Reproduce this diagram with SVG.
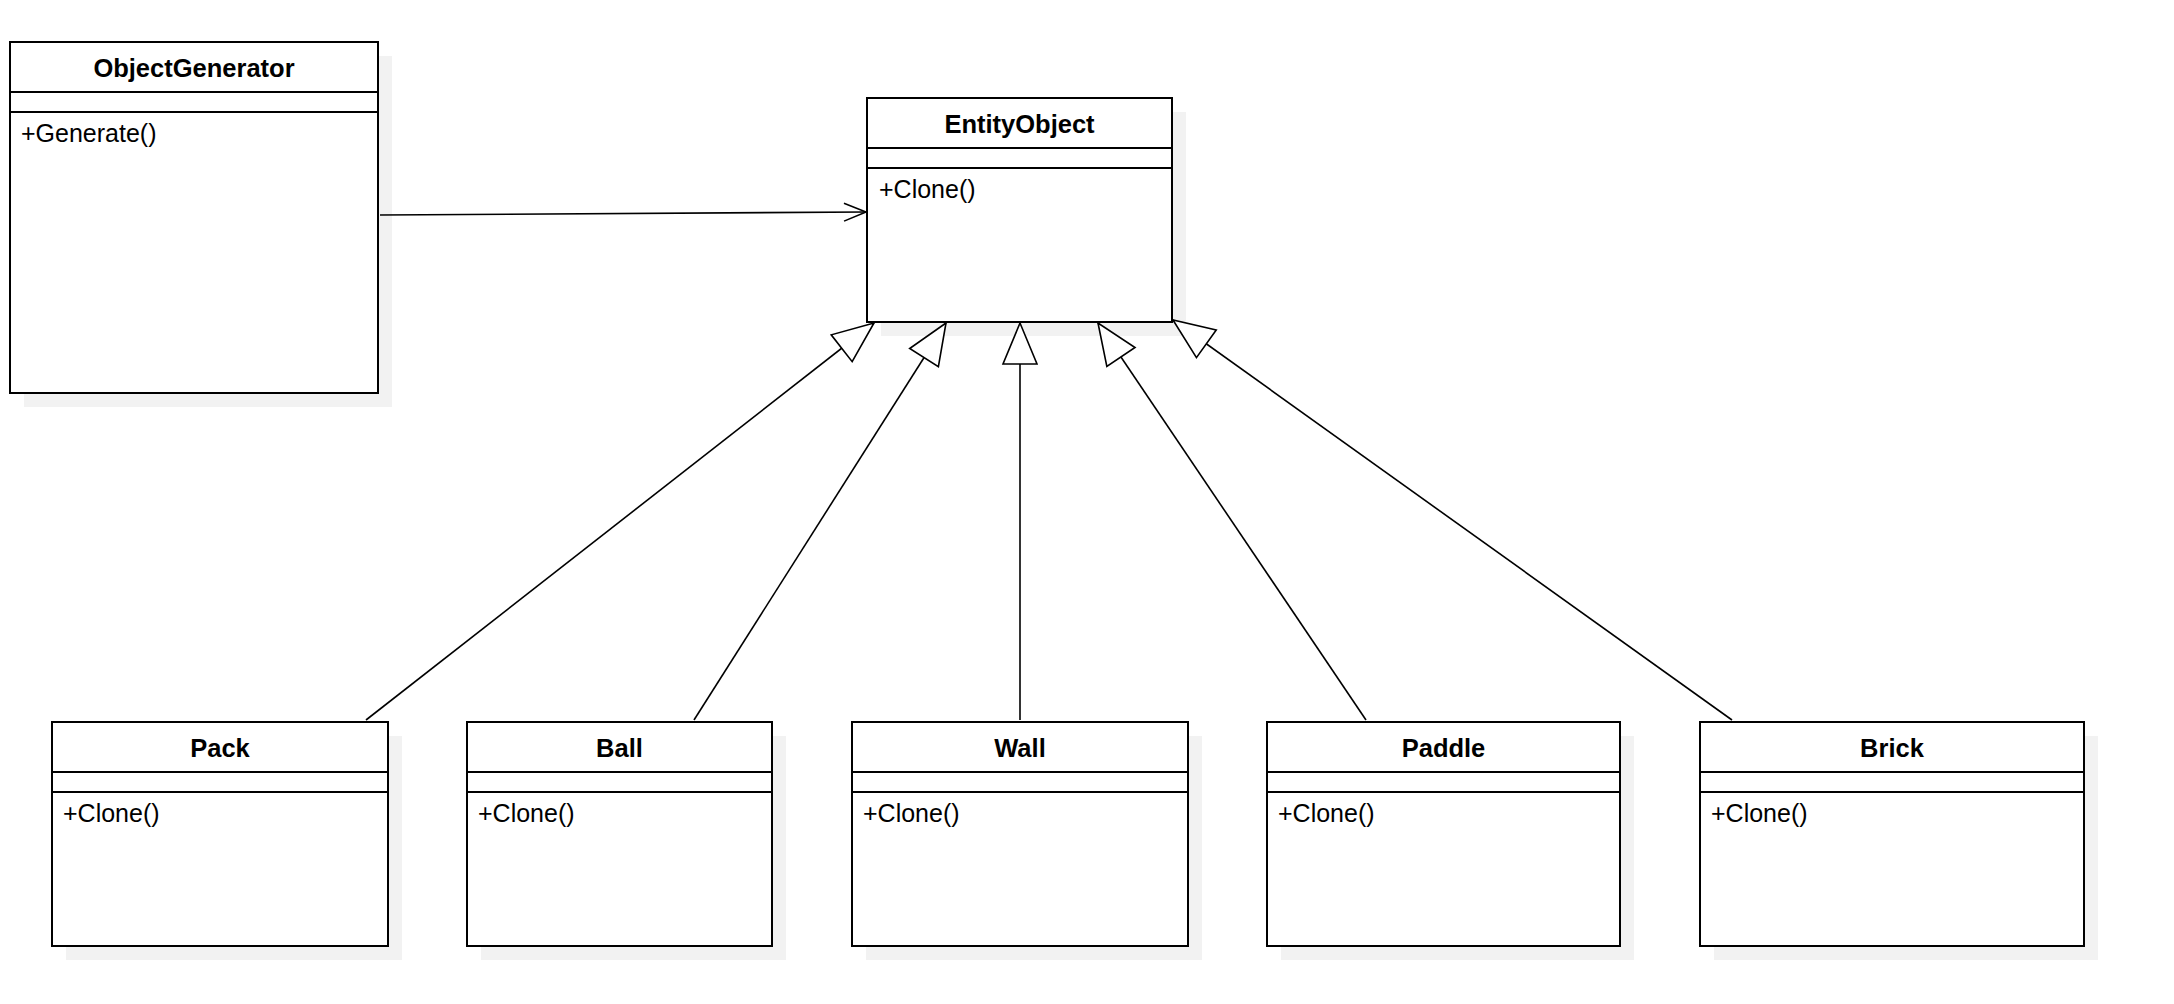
<svg xmlns="http://www.w3.org/2000/svg" width="2174" height="1004" viewBox="0 0 2174 1004">
<style>
.shadow{fill:#f2f2f2;stroke:none}
.box{fill:#ffffff;stroke:#000000;stroke-width:2}
.sep{stroke:#000000;stroke-width:2}
.title{font-family:"Liberation Sans",Arial,sans-serif;font-size:25.5px;font-weight:bold;text-anchor:middle;fill:#000}
.member{font-family:"Liberation Sans",Arial,sans-serif;font-size:25px;fill:#000}
.conn{stroke:#000;stroke-width:1.6;fill:none}
</style>
<defs>
<marker id="gen" markerUnits="userSpaceOnUse" viewBox="-44 -20 48 40" refX="0" refY="0" markerWidth="48" markerHeight="40" orient="auto">
<path d="M0,0 L-41,-17 L-41,17 Z" fill="#ffffff" stroke="#000" stroke-width="1.6" stroke-linejoin="miter"/>
</marker>
<marker id="open" markerUnits="userSpaceOnUse" viewBox="-26 -12 30 24" refX="0" refY="0" markerWidth="30" markerHeight="24" orient="auto">
<path d="M-22,-9 L0,0 L-22,9" fill="none" stroke="#000" stroke-width="1.6"/>
</marker>
</defs>
<rect width="2174" height="1004" fill="#ffffff"/>

<g id="ObjectGenerator">
<rect class="shadow" x="24" y="56" width="368" height="351"/>
<rect class="box" x="10" y="42" width="368" height="351"/>
<line class="sep" x1="10" y1="92" x2="378" y2="92"/>
<line class="sep" x1="10" y1="112" x2="378" y2="112"/>
<text class="title" x="194" y="76.5">ObjectGenerator</text>
<text class="member" x="21" y="142">+Generate()</text>
</g>

<g id="EntityObject">
<rect class="shadow" x="881" y="112" width="305" height="224"/>
<rect class="box" x="867" y="98" width="305" height="224"/>
<line class="sep" x1="867" y1="148" x2="1172" y2="148"/>
<line class="sep" x1="867" y1="168" x2="1172" y2="168"/>
<text class="title" x="1019.5" y="132.5">EntityObject</text>
<text class="member" x="879" y="198">+Clone()</text>
</g>

<g id="Pack">
<rect class="shadow" x="66" y="736" width="336" height="224"/>
<rect class="box" x="52" y="722" width="336" height="224"/>
<line class="sep" x1="52" y1="772" x2="388" y2="772"/>
<line class="sep" x1="52" y1="792" x2="388" y2="792"/>
<text class="title" x="220" y="756.5">Pack</text>
<text class="member" x="63" y="822">+Clone()</text>
</g>

<g id="Ball">
<rect class="shadow" x="481" y="736" width="305" height="224"/>
<rect class="box" x="467" y="722" width="305" height="224"/>
<line class="sep" x1="467" y1="772" x2="772" y2="772"/>
<line class="sep" x1="467" y1="792" x2="772" y2="792"/>
<text class="title" x="619.5" y="756.5">Ball</text>
<text class="member" x="478" y="822">+Clone()</text>
</g>

<g id="Wall">
<rect class="shadow" x="866" y="736" width="336" height="224"/>
<rect class="box" x="852" y="722" width="336" height="224"/>
<line class="sep" x1="852" y1="772" x2="1188" y2="772"/>
<line class="sep" x1="852" y1="792" x2="1188" y2="792"/>
<text class="title" x="1020" y="756.5">Wall</text>
<text class="member" x="863" y="822">+Clone()</text>
</g>

<g id="Paddle">
<rect class="shadow" x="1281" y="736" width="353" height="224"/>
<rect class="box" x="1267" y="722" width="353" height="224"/>
<line class="sep" x1="1267" y1="772" x2="1620" y2="772"/>
<line class="sep" x1="1267" y1="792" x2="1620" y2="792"/>
<text class="title" x="1443.5" y="756.5">Paddle</text>
<text class="member" x="1278" y="822">+Clone()</text>
</g>

<g id="Brick">
<rect class="shadow" x="1714" y="736" width="384" height="224"/>
<rect class="box" x="1700" y="722" width="384" height="224"/>
<line class="sep" x1="1700" y1="772" x2="2084" y2="772"/>
<line class="sep" x1="1700" y1="792" x2="2084" y2="792"/>
<text class="title" x="1892" y="756.5">Brick</text>
<text class="member" x="1711" y="822">+Clone()</text>
</g>

<g id="connectors">
<line class="conn" x1="380" y1="215" x2="866" y2="212" marker-end="url(#open)"/>
<line class="conn" x1="366" y1="720" x2="874" y2="323" marker-end="url(#gen)"/>
<line class="conn" x1="694" y1="720" x2="946" y2="323" marker-end="url(#gen)"/>
<line class="conn" x1="1020" y1="720" x2="1020" y2="323" marker-end="url(#gen)"/>
<line class="conn" x1="1366" y1="720" x2="1098" y2="323" marker-end="url(#gen)"/>
<line class="conn" x1="1732" y1="720" x2="1173" y2="320" marker-end="url(#gen)"/>
</g>
</svg>
